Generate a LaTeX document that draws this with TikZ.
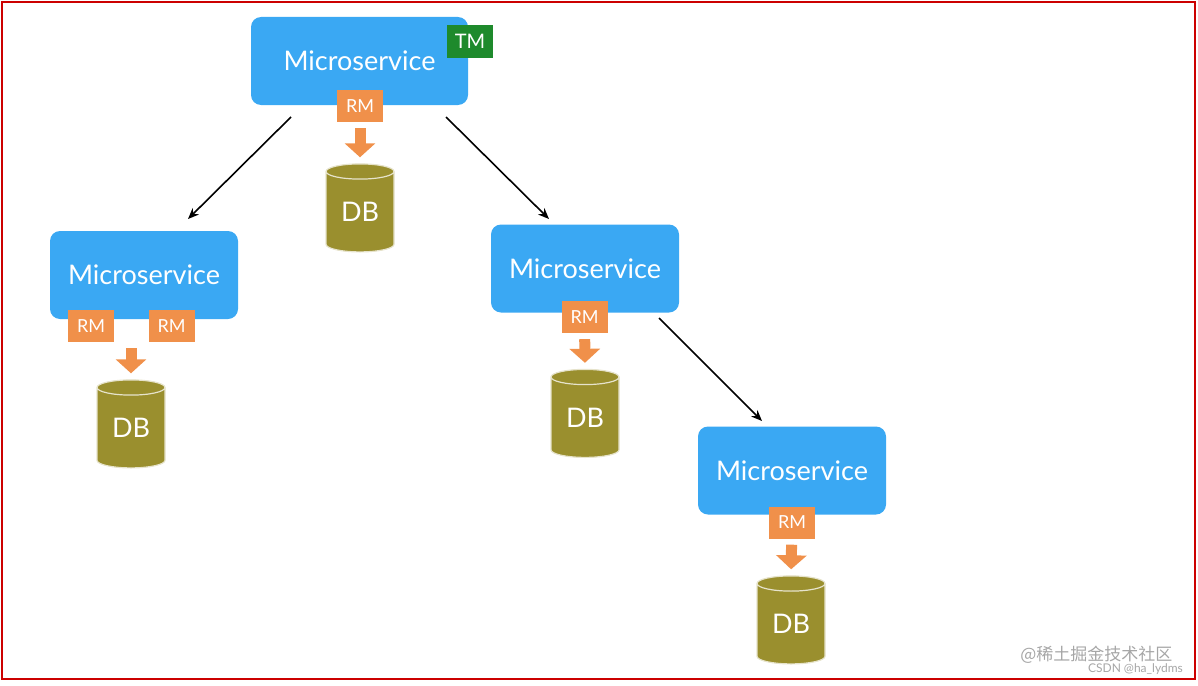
\documentclass[tikz,border=0pt]{standalone}
\usepackage{fontspec}
\setmainfont{Lato}
\newfontfamily\cjk{Noto Sans CJK SC}
\usetikzlibrary{shapes.geometric,arrows.meta}
\definecolor{msblue}{HTML}{3AA8F3}
\definecolor{rmorange}{HTML}{F0904A}
\definecolor{tmgreen}{HTML}{1E8A2C}
\definecolor{dbolive}{HTML}{9A8F2E}
\tikzset{
  ms/.style={rectangle, rounded corners=10pt, fill=msblue, text=white,
    minimum width=188pt, minimum height=88pt, font=\fontsize{27}{30}\selectfont},
  rm/.style={rectangle, fill=rmorange, text=white, minimum width=46pt,
    minimum height=32pt, inner sep=0pt, font=\fontsize{18}{20}\selectfont},
  tm/.style={rectangle, fill=tmgreen, text=white, minimum width=46pt,
    minimum height=33pt, inner sep=0pt, font=\fontsize{20}{22}\selectfont},
  db/.style={cylinder, shape border rotate=90, aspect=0.4, fill=dbolive,
    draw=white!75!dbolive, line width=1.2pt, text=white, minimum width=68pt,
    minimum height=88pt, inner sep=0pt, font=\fontsize{27}{30}\selectfont},
  flow/.style={rmorange, line width=11pt, -{Triangle[length=14pt,width=30pt]},
    shorten <=6pt, shorten >=6pt},
  call/.style={black, line width=1.6pt, -{Stealth[length=11pt,width=9pt]}}
}
\begin{document}
\begin{tikzpicture}[x=1pt,y=-1pt]
  \useasboundingbox (0,0) rectangle (1198,685);
  \draw[red!80!black, line width=1.5pt] (2,2) rectangle (1195,679);
  % services
  \node[ms, minimum width=217pt] (top) at (359.5,61) {Microservice};
  \node[tm] (tm) at (470,41.5) {TM};
  \node[ms] (left) at (144,275) {Microservice};
  \node[ms] (mid) at (585,268.5) {Microservice};
  \node[ms] (bot) at (792,470.5) {Microservice};
  % resource managers
  \node[rm] (rm0) at (360,106) {RM};
  \node[rm] (rm1) at (91,326) {RM};
  \node[rm] (rm2) at (171.5,326) {RM};
  \node[rm] (rm3) at (584.5,317) {RM};
  \node[rm] (rm4) at (792,522.5) {RM};
  % databases
  \node[db] (db0) at (360,212) {DB};
  \node[db] (db1) at (131,428) {DB};
  \node[db] (db2) at (585,417.5) {DB};
  \node[db] (db3) at (791,624) {DB};
  % RM to DB
  \draw[flow] (rm0) -- (db0.top);
  \draw[flow] (rm1.south -| db1) -- (db1.top);
  \draw[flow] (rm3) -- (db2.top);
  \draw[flow] (rm4) -- (db3.top);
  % calls
  \coordinate (c1) at (291,117);
  \coordinate (c2) at (446,117);
  \coordinate (c3) at (659,318);
  \coordinate (e1) at (188,219);
  \coordinate (e2) at (549,219);
  \coordinate (e3) at (762,421);
  \draw[call] (c1) -- (e1);
  \draw[call] (c2) -- (e2);
  \draw[call] (c3) -- (e3);
  % watermark
  \node[text=gray!70, font=\cjk\fontsize{17}{20}\selectfont, anchor=east] (wm1) at (1176,655) {@稀土掘金技术社区};
  \node[text=gray!70, font=\fontsize{12}{14}\selectfont, anchor=east, inner sep=0pt] (wm2) at (1183,669) {CSDN @ha\_lydms};
\end{tikzpicture}
\end{document}
